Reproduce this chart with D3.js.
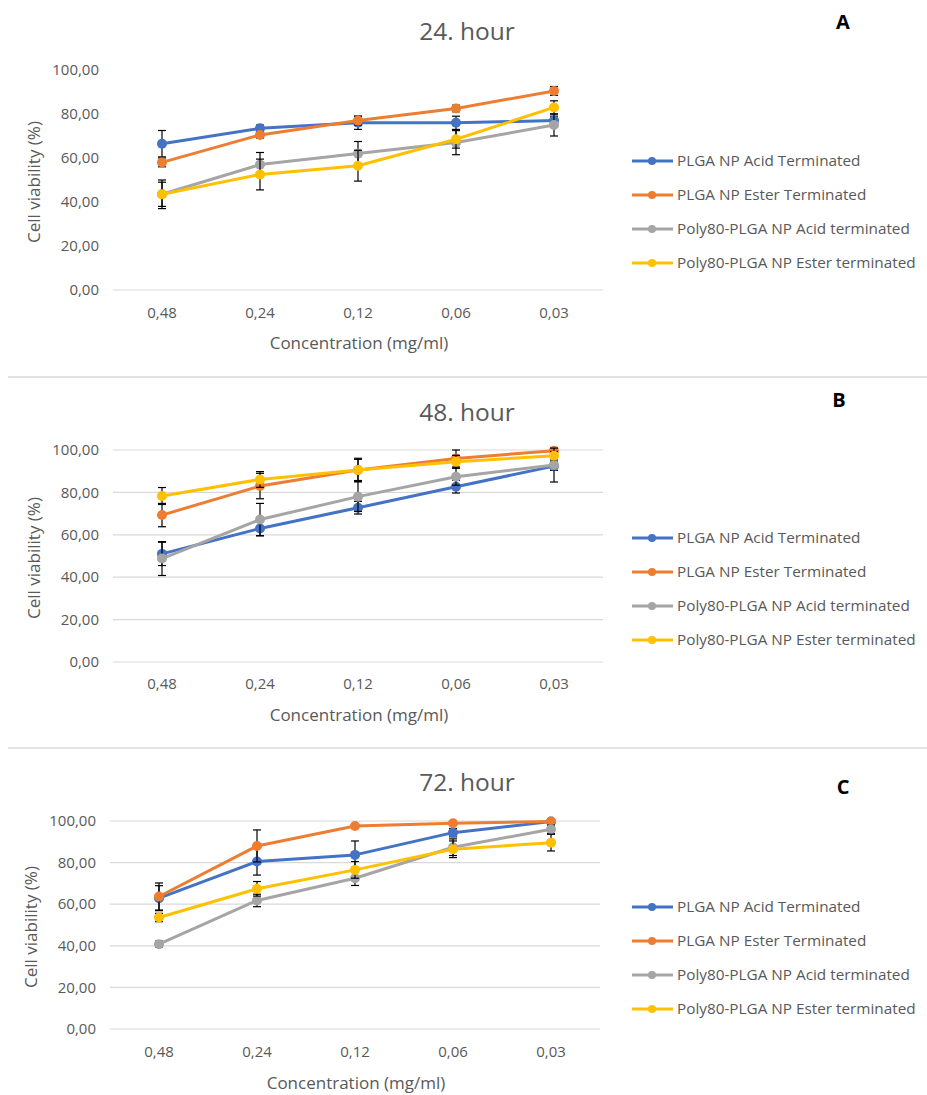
<!DOCTYPE html>
<html><head><meta charset="utf-8">
<script src="https://cdn.jsdelivr.net/npm/d3@7"></script>
<style>
body{margin:0;background:#fff;}
svg{display:block;font-family:"Open Sans",sans-serif;}
</style></head><body>
<svg id="c" width="927" height="1095"></svg>
<script>
const categories = ["0,48","0,24","0,12","0,06","0,03"];
const seriesNames = ["PLGA NP Acid Terminated","PLGA NP Ester Terminated","Poly80-PLGA NP Acid terminated","Poly80-PLGA NP Ester terminated"];
const seriesColors = ["#4472C4","#ED7D31","#A5A5A5","#FFC000"];
const yTicks = [0,20,40,60,80,100];
const panelTitles = ["24. hour","48. hour","72. hour"];
const panelLetters = ["A","B","C"];

// 24 hour
const values24 = [
  [66.5, 73.5, 76, 76, 77],
  [58, 70.5, 77, 82.5, 90.5],
  [43.5, 57, 62, 67, 75],
  [43.5, 52.5, 56.5, 68.5, 83]
];
const errors24 = [
  [6, 1.5, 3, 3, 2],
  [2, 1.5, 2, 1.5, 2],
  [6.5, 5.5, 5.5, 5.5, 5],
  [5.5, 7, 7, 4, 3]
];
// 48 hour
const values48 = [
  [51, 63, 72.8, 82.7, 92.4],
  [69.3, 83, 90.6, 96, 99.7],
  [48.8, 67.2, 78, 87.4, 92.9],
  [78.3, 86.1, 90.6, 94.5, 97.3]
];
const errors48 = [
  [5.5, 3.5, 3, 3, 2],
  [5.5, 6, 5.5, 4, 1],
  [8, 7.6, 7, 4, 8],
  [4, 3.7, 5, 3, 2]
];
// 72 hour
const values72 = [
  [62.9, 80.5, 83.7, 94.4, 99.7],
  [63.7, 88, 97.6, 98.9, 99.7],
  [40.8, 61.8, 72.5, 87.4, 96],
  [53.6, 67.4, 76.5, 86.4, 89.6]
];
const errors72 = [
  [6, 6.5, 6.7, 2, 1],
  [6.5, 7.7, 1, 1, 0.5],
  [1.5, 3, 3.5, 4, 2],
  [2, 3.5, 4, 4, 4]
];

const panels = [
  {values: values24, errors: errors24, y0: 290, y100: 70, x0: 113, x1: 603, grid: false,
   titleY: 31, letterY: 22, letterX: 843, labY: 313, xTitleY: 343, yTitleX: 34, tickX: 99, legendY: 161},
  {values: values48, errors: errors48, y0: 662, y100: 450, x0: 113, x1: 603, grid: true,
   titleY: 412, letterY: 400, letterX: 839, labY: 684, xTitleY: 715, yTitleX: 34, tickX: 99, legendY: 538},
  {values: values72, errors: errors72, y0: 1029, y100: 821, x0: 110, x1: 600, grid: true,
   titleY: 782, letterY: 787, letterX: 843, labY: 1052, xTitleY: 1083, yTitleX: 31, tickX: 96, legendY: 907}
];

const svg = d3.select("#c");
const txt = "#595959";

// separators
[377, 748].forEach(y => svg.append("line").attr("x1", 8).attr("x2", 927).attr("y1", y).attr("y2", y)
  .attr("stroke", "#d9d9d9").attr("stroke-width", 1.5));

panels.forEach((p, pi) => {
  const g = svg.append("g");
  const x = d3.scaleBand().domain(categories).range([p.x0, p.x1]);
  const y = d3.scaleLinear().domain([0, 100]).range([p.y0, p.y100]);
  const cx = c => x(c) + x.bandwidth() / 2;

  // grid
  const gridVals = p.grid ? yTicks : [0];
  g.selectAll(".grid").data(gridVals).enter().append("line")
    .attr("x1", p.x0).attr("x2", p.x1).attr("y1", d => y(d)).attr("y2", d => y(d))
    .attr("stroke", "#d9d9d9").attr("stroke-width", 1.2);

  // y tick labels
  g.selectAll(".yt").data(yTicks).enter().append("text")
    .attr("x", p.tickX).attr("y", d => y(d)).attr("dy", "0.35em")
    .attr("text-anchor", "end").attr("fill", txt).attr("font-size", 15)
    .text(d => d.toFixed(2).replace(".", ","));

  // x tick labels
  g.selectAll(".xt").data(categories).enter().append("text")
    .attr("x", d => cx(d)).attr("y", p.labY).attr("dy", "0.35em")
    .attr("text-anchor", "middle").attr("fill", txt).attr("font-size", 15)
    .text(d => d);

  // axis titles
  g.append("text").attr("x", (p.x0 + p.x1) / 2 + 1).attr("y", p.xTitleY).attr("dy", "0.35em")
    .attr("text-anchor", "middle").attr("fill", txt).attr("font-size", 17).text("Concentration (mg/ml)");
  g.append("text").attr("transform", `translate(${p.yTitleX},${(p.y0 + p.y100) / 2 + 2}) rotate(-90)`)
    .attr("dy", "0.35em").attr("text-anchor", "middle").attr("fill", txt).attr("font-size", 17)
    .text("Cell viability (%)");

  // title
  g.append("text").attr("x", 467).attr("y", p.titleY).attr("dy", "0.35em").attr("text-anchor", "middle")
    .attr("fill", txt).attr("font-size", 24.5).text(panelTitles[pi]);
  g.append("text").attr("x", p.letterX).attr("y", p.letterY).attr("dy", "0.35em").attr("text-anchor", "middle")
    .attr("fill", "#000").attr("font-size", 20).attr("font-weight", "bold").text(panelLetters[pi]);

  const line = d3.line().x((d, i) => cx(categories[i])).y(d => y(d));

  p.values.forEach((vals, si) => {
    const errs = p.errors[si];
    const eg = g.append("g");
    vals.forEach((v, i) => {
      const xx = cx(categories[i]);
      const top = y(v + errs[i]), bot = y(v - errs[i]);
      eg.append("line").attr("x1", xx).attr("x2", xx).attr("y1", top).attr("y2", bot)
        .attr("stroke", "#000").attr("stroke-width", 1.2);
      [top, bot].forEach(yy => eg.append("line").attr("x1", xx - 4).attr("x2", xx + 4)
        .attr("y1", yy).attr("y2", yy).attr("stroke", "#000").attr("stroke-width", 1.2));
    });
    g.append("path").datum(vals).attr("d", line).attr("fill", "none")
      .attr("stroke", seriesColors[si]).attr("stroke-width", 3).attr("stroke-linejoin", "round");
    g.selectAll(null).data(vals).enter().append("circle")
      .attr("cx", (d, i) => cx(categories[i])).attr("cy", d => y(d)).attr("r", 5)
      .attr("fill", seriesColors[si]);
  });

  // legend
  const lg = g.append("g");
  seriesNames.forEach((n, si) => {
    const ly = p.legendY + si * 34;
    lg.append("line").attr("x1", 632).attr("x2", 673).attr("y1", ly).attr("y2", ly)
      .attr("stroke", seriesColors[si]).attr("stroke-width", 3);
    lg.append("circle").attr("cx", 652).attr("cy", ly).attr("r", 4).attr("fill", seriesColors[si]);
    lg.append("text").attr("x", 677).attr("y", ly).attr("dy", "0.35em").attr("fill", txt)
      .attr("font-size", 15.3).text(n);
  });
});
</script>
</body></html>
